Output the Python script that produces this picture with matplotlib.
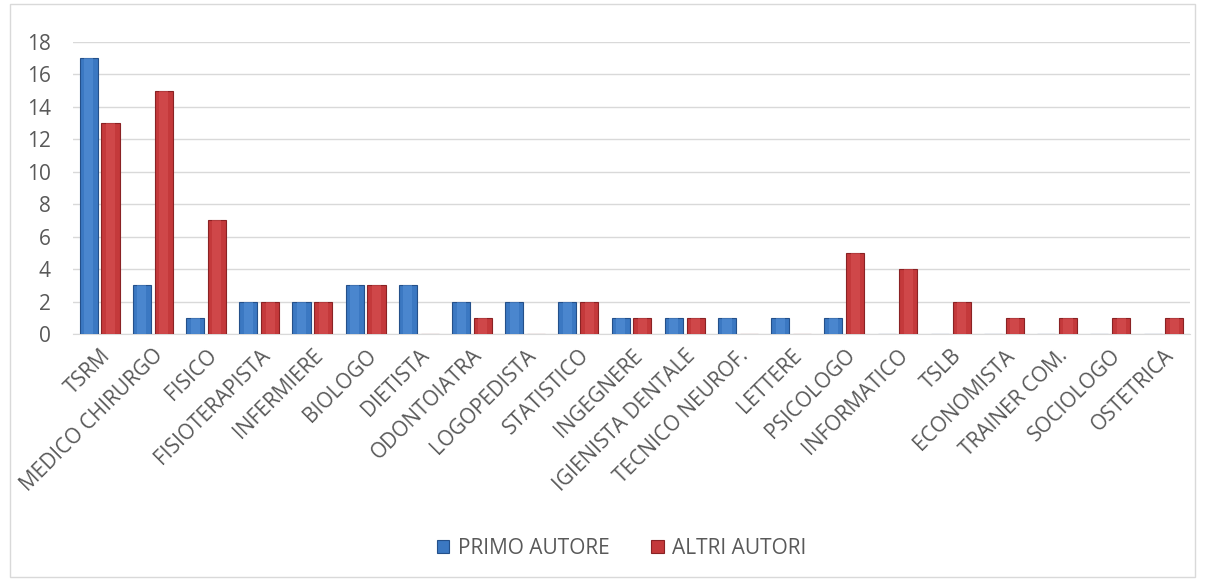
import numpy as np
import matplotlib
matplotlib.use('Agg')
import matplotlib.pyplot as plt
from matplotlib.patches import Rectangle

categorie = ['TSRM', 'MEDICO CHIRURGO', 'FISICO', 'FISIOTERAPISTA', 'INFERMIERE',
             'BIOLOGO', 'DIETISTA', 'ODONTOIATRA', 'LOGOPEDISTA', 'STATISTICO',
             'INGEGNERE', 'IGIENISTA DENTALE', 'TECNICO NEUROF.', 'LETTERE',
             'PSICOLOGO', 'INFORMATICO', 'TSLB', 'ECONOMISTA', 'TRAINER COM.',
             'SOCIOLOGO', 'OSTETRICA']
primo_autore = [17, 3, 1, 2, 2, 3, 3, 2, 2, 2, 1, 1, 1, 1, 1, 0, 0, 0, 0, 0, 0]
altri_autori = [13, 15, 7, 2, 2, 3, 0, 1, 0, 2, 1, 1, 0, 0, 5, 4, 2, 1, 1, 1, 1]
y_ticks = [0, 2, 4, 6, 8, 10, 12, 14, 16, 18]

plt.rcParams['font.family'] = ['Open Sans', 'DejaVu Sans']

fig = plt.figure(figsize=(12.05, 5.8), dpi=100)
ax = fig.add_axes([0.0606, 0.4241, 0.9270, 0.5035])

# cornice del grafico
fig.patches.append(Rectangle((0.008, 0.005), 0.984, 0.988, transform=fig.transFigure,
                             fill=False, edgecolor='#D9D9D9', linewidth=1))

x = np.arange(len(categorie))
w = 0.34
blu, blu_bordo = '#3B78C2', '#24508A'
rosso, rosso_bordo = '#C4393B', '#8A2224'

b1 = ax.bar(x - w / 2 - 0.035, primo_autore, w, color=blu, edgecolor=blu_bordo,
            linewidth=0.8, label='PRIMO AUTORE', zorder=3)
b2 = ax.bar(x + w / 2 + 0.035, altri_autori, w, color=rosso, edgecolor=rosso_bordo,
            linewidth=0.8, label='ALTRI AUTORI', zorder=3)

# leggero effetto smussato: striscia chiara al centro della barra
for bars, chiaro in ((b1, '#5A95DA'), (b2, '#DB5557')):
    for b in bars:
        h = b.get_height()
        if h > 0:
            ax.bar(b.get_x() + b.get_width() / 2, h, b.get_width() * 0.5,
                   color=chiaro, alpha=0.5, linewidth=0, zorder=4)

ax.set_xlim(-0.5, len(categorie) - 0.5)
ax.set_ylim(0, 18)
ax.set_yticks(y_ticks)
ax.set_xticks(x)
ax.set_xticklabels(categorie, rotation=45, ha='right', rotation_mode='anchor')
ax.tick_params(axis='both', length=0, colors='#595959', labelsize=15)
ax.tick_params(axis='x', pad=8)
ax.tick_params(axis='y', pad=16)

ax.grid(axis='y', color='#D9D9D9', linewidth=1, zorder=0)
for s in ('top', 'right', 'left'):
    ax.spines[s].set_visible(False)
ax.spines['bottom'].set_color('#D9D9D9')

ax.legend(loc='center', bbox_to_anchor=(0.491, -0.733), ncol=2, frameon=False,
          fontsize=15, handlelength=0.6, handleheight=0.6, columnspacing=2.0,
          handletextpad=0.4, labelcolor='#595959')

fig.savefig('out.png', dpi=100)
